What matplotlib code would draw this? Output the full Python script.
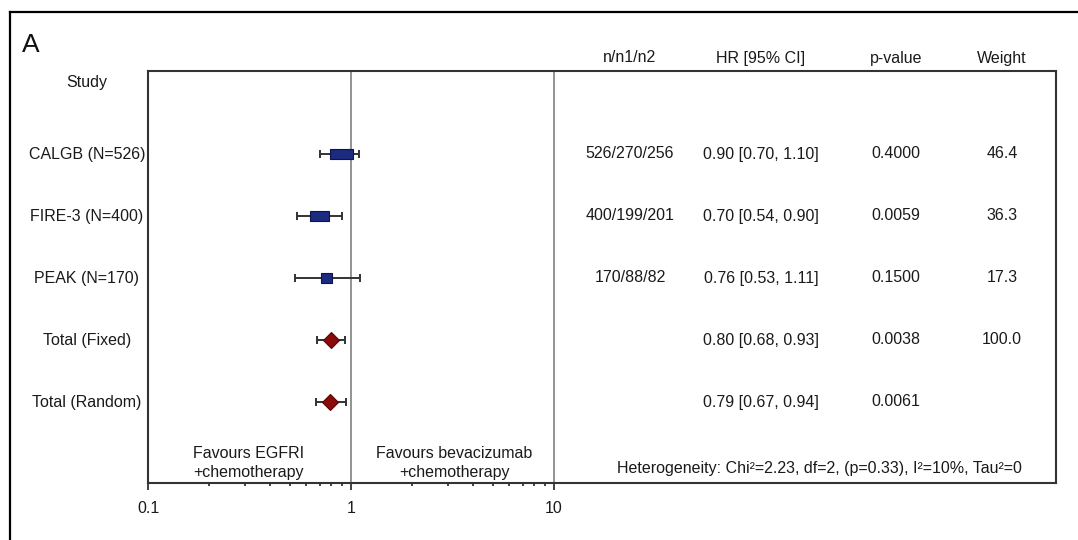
import matplotlib
matplotlib.use("Agg")
import matplotlib.pyplot as plt
import matplotlib.patches as mpatches
import matplotlib.transforms as mtransforms
from matplotlib.lines import Line2D
import numpy as np

plt.rcParams['font.family'] = ['Liberation Sans', 'DejaVu Sans']

# data
studies = ['CALGB (N=526)', 'FIRE-3 (N=400)', 'PEAK (N=170)', 'Total (Fixed)', 'Total (Random)']
hr = [0.90, 0.70, 0.76, 0.80, 0.79]
ci_lo = [0.70, 0.54, 0.53, 0.68, 0.67]
ci_hi = [1.10, 0.90, 1.11, 0.93, 0.94]
is_total = [False, False, False, True, True]
n_col = ['526/270/256', '400/199/201', '170/88/82', '', '']
hr_col = ['0.90 [0.70, 1.10]', '0.70 [0.54, 0.90]', '0.76 [0.53, 1.11]',
          '0.80 [0.68, 0.93]', '0.79 [0.67, 0.94]']
p_col = ['0.4000', '0.0059', '0.1500', '0.0038', '0.0061']
weight = [46.4, 36.3, 17.3, 100.0, None]
headers = ['n/n1/n2', 'HR [95% CI]', 'p-value', 'Weight']
hetero = 'Heterogeneity: Chi\u00b2=2.23, df=2, (p=0.33), I\u00b2=10%, Tau\u00b2=0'
fav_left = 'Favours EGFRI\n+chemotherapy'
fav_right = 'Favours bevacizumab\n+chemotherapy'

W, H = 1078, 540
fig = plt.figure(figsize=(W / 100, H / 100), dpi=100)

def fx(px):
    return px / W

def fy(py):
    return 1 - py / H

# plot box in pixels: left 148, right 1056, top 71, bottom 483
ax = fig.add_axes([fx(148), fy(483), fx(1056 - 148), (483 - 71) / H])
decade = 203.0
ax.set_xscale('log')
ax.set_xlim(0.1, 10 ** ((1056 - 148) / decade - 1))
row_px = 62.0
ax.set_ylim((483 - 154) / row_px, (71 - 154) / row_px)

for s in ax.spines.values():
    s.set_color('#333333')
    s.set_linewidth(1.5)

ax.xaxis.set_major_locator(matplotlib.ticker.FixedLocator([0.1, 1, 10]))
ax.xaxis.set_major_formatter(matplotlib.ticker.FixedFormatter(['0.1', '1', '10']))
ax.xaxis.set_minor_locator(matplotlib.ticker.FixedLocator(
    [0.2, 0.3, 0.4, 0.5, 0.6, 0.7, 0.8, 0.9, 2, 3, 4, 5, 6, 7, 8, 9]))
ax.xaxis.set_minor_formatter(matplotlib.ticker.NullFormatter())
ax.tick_params(axis='x', which='major', length=5, width=1.3, color='#333333',
               labelsize=11.5, labelcolor='#1a1a1a', pad=8)
ax.tick_params(axis='x', which='minor', length=2.5, width=1.3, color='#333333')
ax.set_yticks([])

ax.axvline(1, color='#8a8a8a', lw=1.3, zorder=1)
ax.axvline(10, color='#8a8a8a', lw=1.3, zorder=1)

rows = np.arange(len(studies))
for i in rows:
    ax.errorbar(hr[i], i, xerr=[[hr[i] - ci_lo[i]], [ci_hi[i] - hr[i]]],
                fmt='none', ecolor='#333333', elinewidth=1.4, capsize=3,
                capthick=1.4, zorder=2)
    if is_total[i]:
        ax.plot(hr[i], i, marker='D', markersize=8.5, color='#8b0a0a',
                markeredgecolor='#5a0505', markeredgewidth=0.8, zorder=3)
    else:
        w_px = 4 + 0.4 * weight[i]
        h_px = 10
        half = w_px / 2 / decade
        lo = hr[i] * 10 ** (-half)
        hi = hr[i] * 10 ** (half)
        ax.add_patch(mpatches.Rectangle((lo, i - h_px / 2 / row_px), hi - lo, h_px / row_px,
                                        facecolor='#1c2a80', edgecolor='#0c1450',
                                        lw=0.8, zorder=3))

tr = mtransforms.blended_transform_factory(fig.transFigure, ax.transData)
fs = 11.5
tc = '#1a1a1a'
col_x = [630, 761, 896, 1002]
for i in rows:
    ax.text(fx(87), i, studies[i], transform=tr, ha='center', va='center',
            fontsize=fs, color=tc, clip_on=False)
    ax.text(fx(col_x[0]), i, n_col[i], transform=tr, ha='center', va='center',
            fontsize=fs, color=tc)
    ax.text(fx(col_x[1]), i, hr_col[i], transform=tr, ha='center', va='center',
            fontsize=fs, color=tc)
    ax.text(fx(col_x[2]), i, p_col[i], transform=tr, ha='center', va='center',
            fontsize=fs, color=tc)
    if weight[i] is not None:
        ax.text(fx(col_x[3]), i, '%.1f' % weight[i], transform=tr, ha='center',
                va='center', fontsize=fs, color=tc)

for x, h in zip(col_x, headers):
    fig.text(fx(x), fy(58), h, ha='center', va='center', fontsize=fs, color=tc)
fig.text(fx(87), fy(83), 'Study', ha='center', va='center', fontsize=fs, color=tc)
fig.text(fx(31), fy(45), 'A', ha='center', va='center', fontsize=19, color='#111111')

fig.text(fx(249), fy(463), fav_left, ha='center', va='center', fontsize=fs,
         color=tc, linespacing=1.25)
fig.text(fx(454), fy(463), fav_right, ha='center', va='center', fontsize=fs,
         color=tc, linespacing=1.25)
fig.text(fx(819), fy(469), hetero, ha='center', va='center', fontsize=fs, color=tc)

# outer frame (only top and left edges are inside the picture)
fig.add_artist(Line2D([fx(10), fx(10)], [0, fy(12)], color='black', lw=1.6))
fig.add_artist(Line2D([fx(10), 1], [fy(12), fy(12)], color='black', lw=1.6))

fig.savefig('out.png', dpi=100)
